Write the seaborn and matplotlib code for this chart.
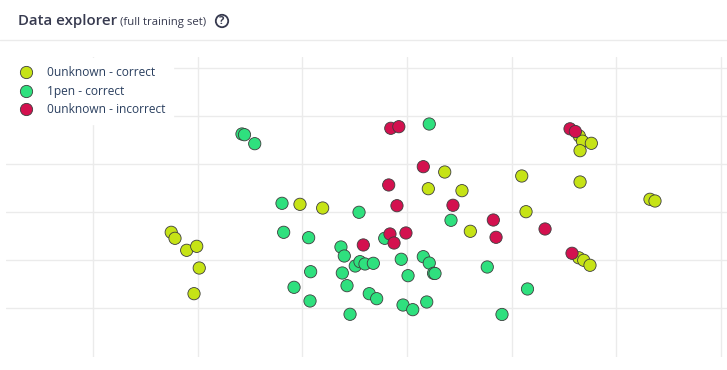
import pandas as pd
import numpy as np
import matplotlib.pyplot as plt
import seaborn as sns
from matplotlib.patches import Circle

# embedding coordinates, one list pair per class
yellow_x = [-22.56, -22.20, -21.08, -20.12, -19.88, -20.38, -10.24, -8.07, 3.61, 2.04, 5.26, 6.06,
            10.98, 11.39, 16.56, 16.49, 16.79, 17.64, 16.56, 23.25, 23.73, 16.44, 16.91, 17.51]
yellow_y = [5.77, 4.52, 2.02, 2.85, -1.67, -7.02, 11.60, 10.83, 18.33, 14.85, 14.44, 5.98,
            17.50, 10.06, 16.25, 25.83, 24.75, 24.31, 22.77, 12.65, 12.29, 0.46, -0.06, -1.10]

green_x = [-15.79, -15.55, -14.57, -11.96, -11.80, -9.41, -4.59, -6.32, -6.00, -6.19, -4.95, -4.50,
           -4.02, -3.22, -9.22, -10.81, -9.28, -5.74, -3.61, -2.90, -5.45, -2.13, -0.55, -0.38,
           2.13, 4.21, 1.56, 2.13, 2.54, 2.68, 0.10, 7.68, 11.53, 0.55, 1.89, 9.09]
green_y = [26.25, 26.10, 24.23, 11.81, 5.77, 4.65, 9.94, 2.71, 0.83, -2.71, -1.25, -0.35,
           -0.83, -0.69, -2.44, -5.69, -8.54, -5.35, -7.02, -8.06, -11.31, 4.52, 0.15, -9.38,
           28.33, 8.27, 0.69, -0.63, -2.77, -2.81, -3.27, -1.46, -6.04, -10.35, -8.75, -11.35]

red_x = [-1.55, -0.78, 1.56, -1.75, -0.96, 4.40, 8.26, 8.52, -1.63, -0.10, -1.24, -4.18,
         13.21, 15.60, 16.11, 15.79]
red_y = [27.44, 27.77, 19.44, 15.63, 11.31, 11.40, 8.33, 4.73, 5.42, 5.63, 3.54, 3.13,
         6.46, 27.33, 26.77, 1.40]

labels = ["0unknown - correct", "1pen - correct", "0unknown - incorrect"]
colors = ["#c6e316", "#2fe07e", "#d3114f"]

df = pd.concat([
    pd.DataFrame({"x": yellow_x, "y": yellow_y, "label": labels[0]}),
    pd.DataFrame({"x": green_x, "y": green_y, "label": labels[1]}),
    pd.DataFrame({"x": red_x, "y": red_y, "label": labels[2]}),
])

sns.set_style("white")
plt.rcParams["font.family"] = ["Open Sans", "DejaVu Sans"]

fig = plt.figure(figsize=(7.27, 3.70), dpi=100)
ax = fig.add_axes([6 / 727, 13 / 370, 721 / 727, 300 / 370])

sns.scatterplot(data=df, x="x", y="y", hue="label", hue_order=labels,
                palette=colors, s=78, edgecolor="#3d3d3d", linewidth=0.6,
                ax=ax, legend=True, zorder=3)

ax.set_xlim(-38.37, 30.62)
ax.set_ylim(-20.21, 42.29)
ax.set_xticks(range(-30, 31, 10))
ax.set_yticks(range(-10, 41, 10))
ax.grid(True, color="#ebebeb", linewidth=1)
ax.tick_params(length=0, labelbottom=False, labelleft=False)
ax.set_xlabel("")
ax.set_ylabel("")
for sp in ax.spines.values():
    sp.set_visible(False)

leg = ax.legend(loc="upper left", bbox_to_anchor=(0, 1 - 1 / 300), frameon=True, fancybox=False,
                fontsize=8.6, labelspacing=0.45, handletextpad=0.7, borderpad=0.7,
                borderaxespad=0.0, markerscale=1.0)
leg.get_frame().set_facecolor("white")
leg.get_frame().set_edgecolor("white")
leg.get_frame().set_alpha(1)
leg.set_zorder(5)
for t in leg.get_texts():
    t.set_color("#2a3f5f")

# header
fig.text(18 / 727, 1 - 21 / 370, "Data explorer", fontsize=10.8, fontweight="semibold",
         color="#373a4f", va="center")
fig.text(120 / 727, 1 - 22 / 370, "(full training set)", fontsize=8.2, color="#373a4f", va="center")
fig.patches.append(Circle((222 / 100, (370 - 21) / 100), 0.062, transform=fig.dpi_scale_trans,
                          facecolor="white", edgecolor="#373a4f", linewidth=1.3))
fig.text(222 / 727, 1 - 21 / 370, "?", fontsize=8, fontweight="bold", color="#373a4f",
         ha="center", va="center")
fig.add_artist(plt.Line2D([0, 1], [1 - 40 / 370, 1 - 40 / 370], color="#ebebeb", linewidth=1))

fig.savefig("out.png", dpi=100)
